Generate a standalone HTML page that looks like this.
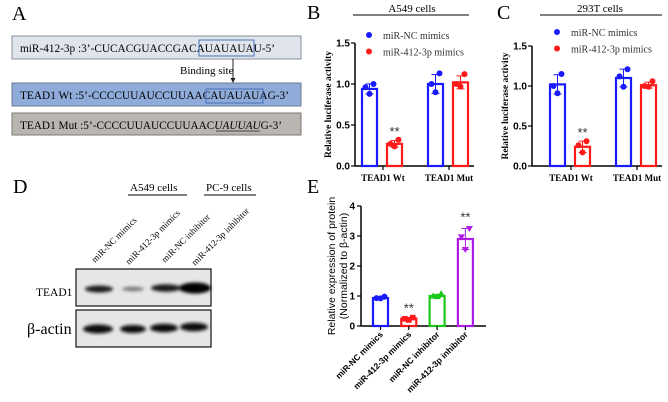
<!DOCTYPE html>
<html><head><meta charset="utf-8"><style>
html,body{margin:0;padding:0;background:#fff}
svg{display:block}
.serif{font-family:"Liberation Serif",serif}
.sans{font-family:"Liberation Sans",sans-serif}
</style></head><body>
<svg id="fig" width="668" height="402" viewBox="0 0 668 402" xmlns="http://www.w3.org/2000/svg">
<defs><filter id="blur" x="-20%" y="-100%" width="140%" height="300%"><feGaussianBlur stdDeviation="1.6"/></filter></defs>
<!-- Panel A -->
<g class="serif">
<text x="12" y="20" font-size="20">A</text>
<rect x="12" y="36" width="289" height="23" fill="#dfe4ed" stroke="#8a8f98" stroke-width="1"/>
<text x="20" y="52" font-size="12" textLength="255" lengthAdjust="spacingAndGlyphs">miR-412-3p :3’-CUCACGUACCGACAUAUAUAU-5’</text>
<rect x="199" y="40" width="55" height="16" fill="none" stroke="#4a72b8" stroke-width="1"/>
<text x="180" y="74" font-size="11">Binding site</text>
<line x1="233" y1="59" x2="233" y2="81" stroke="#222" stroke-width="1"/>
<path d="M230.5,78 L233,83 L235.5,78 Z" fill="#222"/>
<rect x="12" y="83" width="289" height="23" fill="#8fabd9" stroke="#6a7a94" stroke-width="1"/>
<text x="20" y="99" font-size="12" textLength="269" lengthAdjust="spacingAndGlyphs">TEAD1 Wt :5’-CCCCUUAUCCUUAACAUAUAUAG-3’</text>
<rect x="206" y="89" width="57" height="14" fill="none" stroke="#4a72b8" stroke-width="1"/>
<rect x="12" y="113" width="289" height="22" fill="#b9b5b0" stroke="#7d7975" stroke-width="1"/>
<text x="20" y="129" font-size="12" textLength="262" lengthAdjust="spacingAndGlyphs">TEAD1 Mut :5’-CCCCUUAUCCUUAAC<tspan font-style="italic">UAUUAU</tspan>G-3’</text>
<line x1="216" y1="131" x2="260" y2="131" stroke="#222" stroke-width="0.8"/>
</g>
<g id="chartB"></g>
<g id="chartC"></g>
<!-- Panel D -->
<g class="serif">
<text x="13" y="193" font-size="20">D</text>
<text x="130" y="191" font-size="11">A549 cells</text>
<line x1="128" y1="195" x2="187" y2="195" stroke="#000" stroke-width="1"/>
<text x="206" y="191" font-size="11">PC-9 cells</text>
<line x1="204" y1="195" x2="256" y2="195" stroke="#000" stroke-width="1"/>
<text transform="translate(95,263) rotate(-45)" font-size="9">miR-NC mimics</text>
<text transform="translate(129,265) rotate(-45)" font-size="9">miR-412-3p mimics</text>
<text transform="translate(165,263) rotate(-45)" font-size="9">miR-NC inhibitor</text>
<text transform="translate(195,266) rotate(-45)" font-size="9">miR-412-3p inhibitor</text>
<rect x="76" y="269" width="135" height="37" fill="#e6e6e6" stroke="#111" stroke-width="1.2"/>
<g filter="url(#blur)">
<ellipse cx="99" cy="289" rx="14" ry="3.5" fill="#1a1a1a"/>
<ellipse cx="133" cy="289" rx="11" ry="2.2" fill="#777"/>
<ellipse cx="166" cy="288" rx="15" ry="3.8" fill="#1a1a1a"/>
<ellipse cx="195" cy="288" rx="16" ry="5.5" fill="#000"/>
</g>
<rect x="76" y="310" width="135" height="37" fill="#e6e6e6" stroke="#111" stroke-width="1.2"/>
<g filter="url(#blur)">
<ellipse cx="98" cy="329" rx="15" ry="4.5" fill="#111"/>
<ellipse cx="133" cy="329" rx="13" ry="4" fill="#111"/>
<ellipse cx="164" cy="328" rx="14" ry="4.3" fill="#111"/>
<ellipse cx="194" cy="327" rx="14" ry="4.3" fill="#111"/>
</g>
<text x="36" y="296" font-size="11.5">TEAD1</text>
<text x="27" y="334" font-size="16">β-actin</text>
</g>
<g id="chartE"></g>
</svg>
<script>
const NS='http://www.w3.org/2000/svg';
function mk(parent,tag,attrs,text){const e=document.createElementNS(NS,tag);for(const k in attrs)e.setAttribute(k,attrs[k]);if(text!==undefined)e.textContent=text;parent.appendChild(e);return e;}

// Panel B data
const bGroups=['TEAD1 Wt','TEAD1 Mut'];
const bNC=[0.94,1.00];
const bMiR=[0.27,1.02];
const bNCpts=[[0.88,0.96,1.0],[0.90,1.0,1.13]];
const bMiRpts=[[0.24,0.27,0.32],[0.97,1.0,1.12]];
// Panel C data
const cGroups=['TEAD1 Wt','TEAD1 Mut'];
const cNC=[1.02,1.10];
const cMiR=[0.24,1.01];
const cNCpts=[[0.91,1.0,1.15],[0.99,1.12,1.21]];
const cMiRpts=[[0.17,0.26,0.31],[0.99,1.0,1.06]];
const lucTicks=['0.0','0.5','1.0','1.5'];
// Panel E data
const eCats=['miR-NC mimics','miR-412-3p mimics','miR-NC inhibitor','miR-412-3p inhibitor'];
const eVals=[0.93,0.25,1.0,2.9];
const ePts=[[0.92,0.93,0.98],[0.20,0.24,0.28],[0.98,1.0,1.08],[2.55,2.97,3.25]];
const eTicks=['0','1','2','3','4'];

function sd(a){const m=a.reduce((s,v)=>s+v,0)/a.length;return Math.sqrt(a.reduce((s,v)=>s+(v-m)*(v-m),0)/(a.length-1));}
function marker(g,shape,cx,cy,col){
  if(shape==='circle')return mk(g,'circle',{cx:cx,cy:cy,r:3,fill:col});
  if(shape==='square')return mk(g,'rect',{x:cx-2.8,y:cy-2.8,width:5.6,height:5.6,fill:col});
  if(shape==='up')return mk(g,'path',{d:`M${cx},${cy-3.5} L${cx+3.5},${cy+2.5} L${cx-3.5},${cy+2.5}Z`,fill:col});
  return mk(g,'path',{d:`M${cx},${cy+3.5} L${cx+3.5},${cy-2.5} L${cx-3.5},${cy-2.5}Z`,fill:col});
}
function bar(g,x0,w,val,pts,col,shape,y,name){
  const yb=y(0),yt=y(val);
  const r=mk(g,'rect',{x:x0,y:yt,width:w,height:yb-yt,fill:'none',stroke:col,'stroke-width':2.2});
  
  
  const s=sd(pts),cx=x0+w/2;
  mk(g,'line',{x1:cx,x2:cx,y1:y(val+s),y2:y(val-s),stroke:col,'stroke-width':1});
  mk(g,'line',{x1:cx-4,x2:cx+4,y1:y(val+s),y2:y(val+s),stroke:col,'stroke-width':1});
  mk(g,'line',{x1:cx-4,x2:cx+4,y1:y(val-s),y2:y(val-s),stroke:col,'stroke-width':1});
  const off=[-4,0,4];
  pts.forEach((p,i)=>{const m=marker(g,shape,cx+off[[1,0,2][i]],y(p),col);});
}
function star(g,x,yv){const t=mk(g,'text',{x:x,y:yv,'font-size':13,'text-anchor':'middle',fill:'#333','font-family':'Liberation Sans, sans-serif'},'**');}

function lucChart(id,opt){
  const g=document.getElementById(id);
  const y=v=>opt.y0+(opt.y15-opt.y0)*v/1.5;
  mk(g,'text',{x:opt.lx,y:19,'font-size':20,'font-family':'Liberation Serif, serif'},opt.letter);
  const tt=mk(g,'text',{x:opt.tcx,y:12,'font-size':11,'text-anchor':'middle','font-family':'Liberation Serif, serif'},opt.title);
  
  
  mk(g,'line',{x1:opt.tl1,x2:opt.tl2,y1:15,y2:15,stroke:'#000','stroke-width':1});
  const lg=[['miR-NC mimics','#1a1aff'],['miR-412-3p mimics','#ff1a1a']];
  lg.forEach((l,i)=>{const e=mk(g,'g',{});
    mk(e,'circle',{cx:opt.legx,cy:opt.legy+i*16.5,r:3,fill:l[1]});
    mk(e,'text',{x:opt.legx+14,y:opt.legy+i*16.5+4,'font-size':10,'font-family':'Liberation Serif, serif',fill:'#333'},l[0]);});
  const ya=mk(g,'line',{x1:opt.ax,x2:opt.ax,y1:y(1.5),y2:y(0),stroke:'#000','stroke-width':1.5});
  
  const xa=mk(g,'line',{x1:opt.ax,x2:opt.axEnd,y1:y(0),y2:y(0),stroke:'#000','stroke-width':1.5});
  
  lucTicks.forEach(t=>{const v=parseFloat(t);mk(g,'line',{x1:opt.ax-4,x2:opt.ax,y1:y(v),y2:y(v),stroke:'#000','stroke-width':1.2});
    const e=mk(g,'text',{x:opt.ax-5,y:y(v)+3.5,'font-size':10,'font-weight':'bold','text-anchor':'end','font-family':'Liberation Sans, sans-serif'},t);});
  const yt=mk(g,'text',{transform:`translate(${opt.ax-24},${y(0.75)}) rotate(-90)`,'font-size':9.5,'font-weight':'bold','text-anchor':'middle','font-family':'Liberation Serif, serif'},'Relative luciferase activity');
  
  opt.groups.forEach((gname,i)=>{
    const gx=opt.g0+i*opt.gstep;
    bar(g,gx-21,15,opt.nc[i],opt.ncp[i],'#1a1aff','circle',y,'bar-nc-'+i);
    bar(g,gx+4,15,opt.mir[i],opt.mirp[i],'#ff1a1a','circle',y,'bar-mir-'+i);
    mk(g,'line',{x1:gx,x2:gx,y1:y(0),y2:y(0)+4,stroke:'#000','stroke-width':1.2});
    const e=mk(g,'text',{x:gx,y:y(0)+15,'font-size':9,'font-weight':'bold','text-anchor':'middle','font-family':'Liberation Serif, serif'},gname);
    
  });
  star(g,opt.g0+11.5,y(Math.max(...opt.mirp[0]))-4);
}
lucChart('chartB',{letter:'B',lx:307,title:'A549 cells',tcx:412,tl1:353,tl2:469,legx:369,legy:35,ax:355,axEnd:474,y0:166,y15:43,g0:383,gstep:66,groups:bGroups,nc:bNC,mir:bMiR,ncp:bNCpts,mirp:bMiRpts});
lucChart('chartC',{letter:'C',lx:497,title:'293T cells',tcx:600,tl1:540,tl2:662,legx:557,legy:32,ax:532,axEnd:662,y0:166,y15:46,g0:571,gstep:66,groups:cGroups,nc:cNC,mir:cMiR,ncp:cNCpts,mirp:cMiRpts});

// Panel E
(function(){
  const g=document.getElementById('chartE');
  const ax=361,axEnd=486,y0=326,y4=206;
  const y=v=>y0+(y4-y0)*v/4;
  mk(g,'text',{x:307,y:193,'font-size':20,'font-family':'Liberation Serif, serif'},'E');
  const ya=mk(g,'line',{x1:ax,x2:ax,y1:y(4),y2:y(0),stroke:'#000','stroke-width':1.5});
  
  const xa=mk(g,'line',{x1:ax,x2:axEnd,y1:y(0),y2:y(0),stroke:'#000','stroke-width':1.5});
  
  eTicks.forEach(t=>{const v=parseFloat(t);mk(g,'line',{x1:ax-4,x2:ax,y1:y(v),y2:y(v),stroke:'#000','stroke-width':1.2});
    const e=mk(g,'text',{x:ax-6,y:y(v)+3.5,'font-size':10,'font-weight':'bold','text-anchor':'end','font-family':'Liberation Sans, sans-serif'},t);});
  const t1=mk(g,'text',{transform:`translate(335,${y(2)}) rotate(-90)`,'font-size':10.5,'text-anchor':'middle','font-family':'Liberation Sans, sans-serif'},'Relative expression of protein');
  
  const t2=mk(g,'text',{transform:`translate(347,${y(2)}) rotate(-90)`,'font-size':10.5,'text-anchor':'middle','font-family':'Liberation Sans, sans-serif'},'(Normalized to β-actin)');
  
  const cols=['#1a1aff','#ff1a1a','#1ac81a','#b01ae6'];
  const shapes=['circle','square','up','down'];
  eCats.forEach((c,i)=>{
    const cx=380.5+i*28.3;
    bar(g,cx-7.5,15,eVals[i],ePts[i],cols[i],shapes[i],y,'bar-e-'+i);
    mk(g,'line',{x1:cx,x2:cx,y1:y(0),y2:y(0)+4,stroke:'#000','stroke-width':1.2});
    const e=mk(g,'text',{transform:`translate(${cx+3},${y(0)+9}) rotate(-45)`,'font-size':8.5,'font-weight':'bold','text-anchor':'end','font-family':'Liberation Sans, sans-serif'},c);
    
  });
  star(g,380.5+28.3,y(Math.max(...ePts[1]))-5);
  star(g,380.5+3*28.3,y(Math.max(...ePts[3]))-7);
})();
</script>
</body></html>
